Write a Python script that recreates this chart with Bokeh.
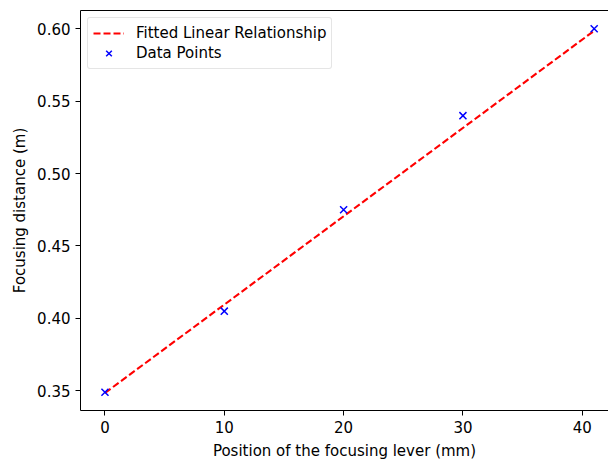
from bokeh.plotting import figure
from bokeh.models import LinearAxis, FixedTicker, Range1d, Legend, LegendItem, CustomJSTickFormatter
from bokeh.embed import file_html
from bokeh.resources import INLINE

# Data
lever_mm = [0, 10, 20, 30, 41]
distance_m = [0.349, 0.405, 0.475, 0.540, 0.600]
fit_x = [0, 41]
fit_y = [0.3485, 0.5986]
x_ticks = [0, 10, 20, 30, 40]
y_ticks = [0.35, 0.40, 0.45, 0.50, 0.55, 0.60]

FONT = "DejaVu Sans"
FS = "15px"

p = figure(width=608, height=462, output_backend="svg", toolbar_location=None,
           x_range=Range1d(-2.05, 42.2), y_range=Range1d(0.3364, 0.6126),
           min_border_left=80, min_border_right=0, min_border_top=10,
           min_border_bottom=51)
p.xaxis.visible = False
p.yaxis.visible = False
p.grid.visible = False
p.outline_line_color = None
p.background_fill_color = "white"
p.border_fill_color = "white"

def style(ax, ticks):
    ax.ticker = FixedTicker(ticks=ticks)
    ax.axis_line_color = "black"
    ax.axis_line_width = 1
    ax.major_tick_line_color = "black"
    ax.major_tick_in = 0
    ax.major_tick_out = 5
    ax.minor_tick_line_color = None
    ax.major_label_text_font = FONT
    ax.major_label_text_font_size = FS
    ax.major_label_text_color = "black"
    ax.major_label_standoff = 5
    ax.axis_label_text_font = FONT
    ax.axis_label_text_font_size = FS
    ax.axis_label_text_font_style = "normal"
    ax.axis_label_text_color = "black"

xa = LinearAxis(axis_label="Position of the focusing lever (mm)")
style(xa, x_ticks)
xa.axis_label_standoff = 6
p.add_layout(xa, "below")

ya = LinearAxis(axis_label="Focusing distance (m)")
style(ya, y_ticks)
ya.formatter = CustomJSTickFormatter(code="return tick.toFixed(2);")
ya.axis_label_standoff = 5
p.add_layout(ya, "left")

ta = LinearAxis()
ta.ticker = FixedTicker(ticks=[])
ta.axis_line_color = "black"
ta.major_tick_line_color = None
ta.minor_tick_line_color = None
ta.major_tick_out = 0
ta.major_label_standoff = 0
p.add_layout(ta, "above")

r_line = p.line(fit_x, fit_y, line_color="red", line_width=2.1, line_dash="7 3")
r_pts = p.scatter(lever_mm, distance_m, marker="x", size=10, line_color="blue",
                  line_width=1.5)

legend = Legend(items=[LegendItem(label="Fitted Linear Relationship", renderers=[r_line]),
                       LegendItem(label="Data Points", renderers=[r_pts])],
                location="top_left")
legend.margin = 7
legend.padding = 5
legend.spacing = 0
legend.label_text_font = FONT
legend.label_text_font_size = FS
legend.label_text_color = "black"
legend.label_standoff = 12
legend.glyph_width = 31
legend.glyph_height = 20
legend.label_height = 20
legend.border_line_color = "#cccccc"
legend.border_line_width = 1
legend.border_radius = 3
legend.background_fill_alpha = 0.8
p.add_layout(legend)

open("out.html", "w").write(file_html(p, INLINE))
